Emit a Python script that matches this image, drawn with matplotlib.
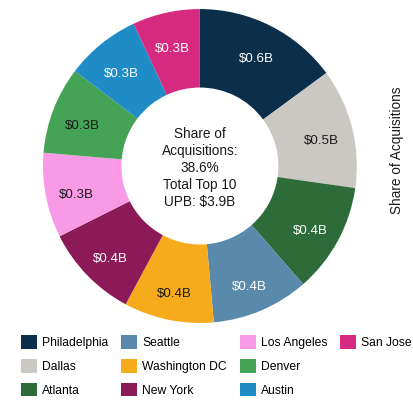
import matplotlib
matplotlib.use("Agg")
import numpy as np
import matplotlib.pyplot as plt
from matplotlib.patches import Patch

plt.rcParams['font.family'] = ['Liberation Sans', 'DejaVu Sans']

# Top 10 metros by acquired UPB ($B)
cities = ['Philadelphia', 'Dallas', 'Atlanta', 'Seattle', 'Washington DC',
          'New York', 'Los Angeles', 'Denver', 'Austin', 'San Jose']
upb = [0.58, 0.48, 0.44, 0.39, 0.36, 0.38, 0.34, 0.35, 0.30, 0.27]
colors = ['#0b2e4a', '#cbc8c3', '#2d6b39', '#5a8aab', '#f6ab1c',
          '#8c1a58', '#f89ae6', '#45a356', '#1f8bc7', '#d52a80']
label_colors = ['white', '#1a1a1a', 'white', 'white', '#1a1a1a',
                'white', '#1a1a1a', '#1a1a1a', 'white', 'white']
center_text = "Share of\nAcquisitions:\n38.6%\nTotal Top 10\nUPB: $3.9B"
side_title = "Share of Acquisitions"

fig = plt.figure(figsize=(4.13, 4.0), dpi=100)
ax = fig.add_axes([0.104, 0.1925, 0.760, 0.785])

wedges, texts = ax.pie(upb, colors=colors, startangle=90, counterclock=False,
                       radius=1.0, wedgeprops=dict(width=0.5, linewidth=0))
ax.set_xlim(-1, 1)
ax.set_ylim(-1, 1)

# value labels in the middle of each ring segment
total = sum(upb)
cum = 0.0
for val, tc in zip(upb, label_colors):
    mid = cum + val / 2
    cum += val
    theta = np.deg2rad(90 - 360 * mid / total)
    r = 0.8
    ax.text(r * np.cos(theta), r * np.sin(theta) - 0.035, f"${val:.1f}B",
            ha='center', va='center', color=tc, fontsize=9.6)

ax.text(0, -0.012, center_text, ha='center', va='center', fontsize=9.8,
        color='#1a1a1a', linespacing=1.27)

fig.text(0.962, 0.625, side_title, rotation=90, ha='center', va='center',
         fontsize=9.8, color='#1a1a1a')

# legend filled column by column: 3, 3, 3, 1 (blank slots pad the last column)
blank = Patch(facecolor='none', edgecolor='none')
handles = [Patch(facecolor=c, edgecolor='none') for c in colors]
handles = handles[:9] + [handles[9], blank, blank]
labels = cities[:9] + [cities[9], '', '']
fig.legend(handles, labels, ncol=4, loc='upper left',
           bbox_to_anchor=(0.051, 0.1625), frameon=False, fontsize=8.7,
           handlelength=1.35, handleheight=1.35, handletextpad=0.4,
           columnspacing=1.05, labelspacing=0.84, borderaxespad=0,
           borderpad=0)

fig.savefig("out.png", dpi=100)
